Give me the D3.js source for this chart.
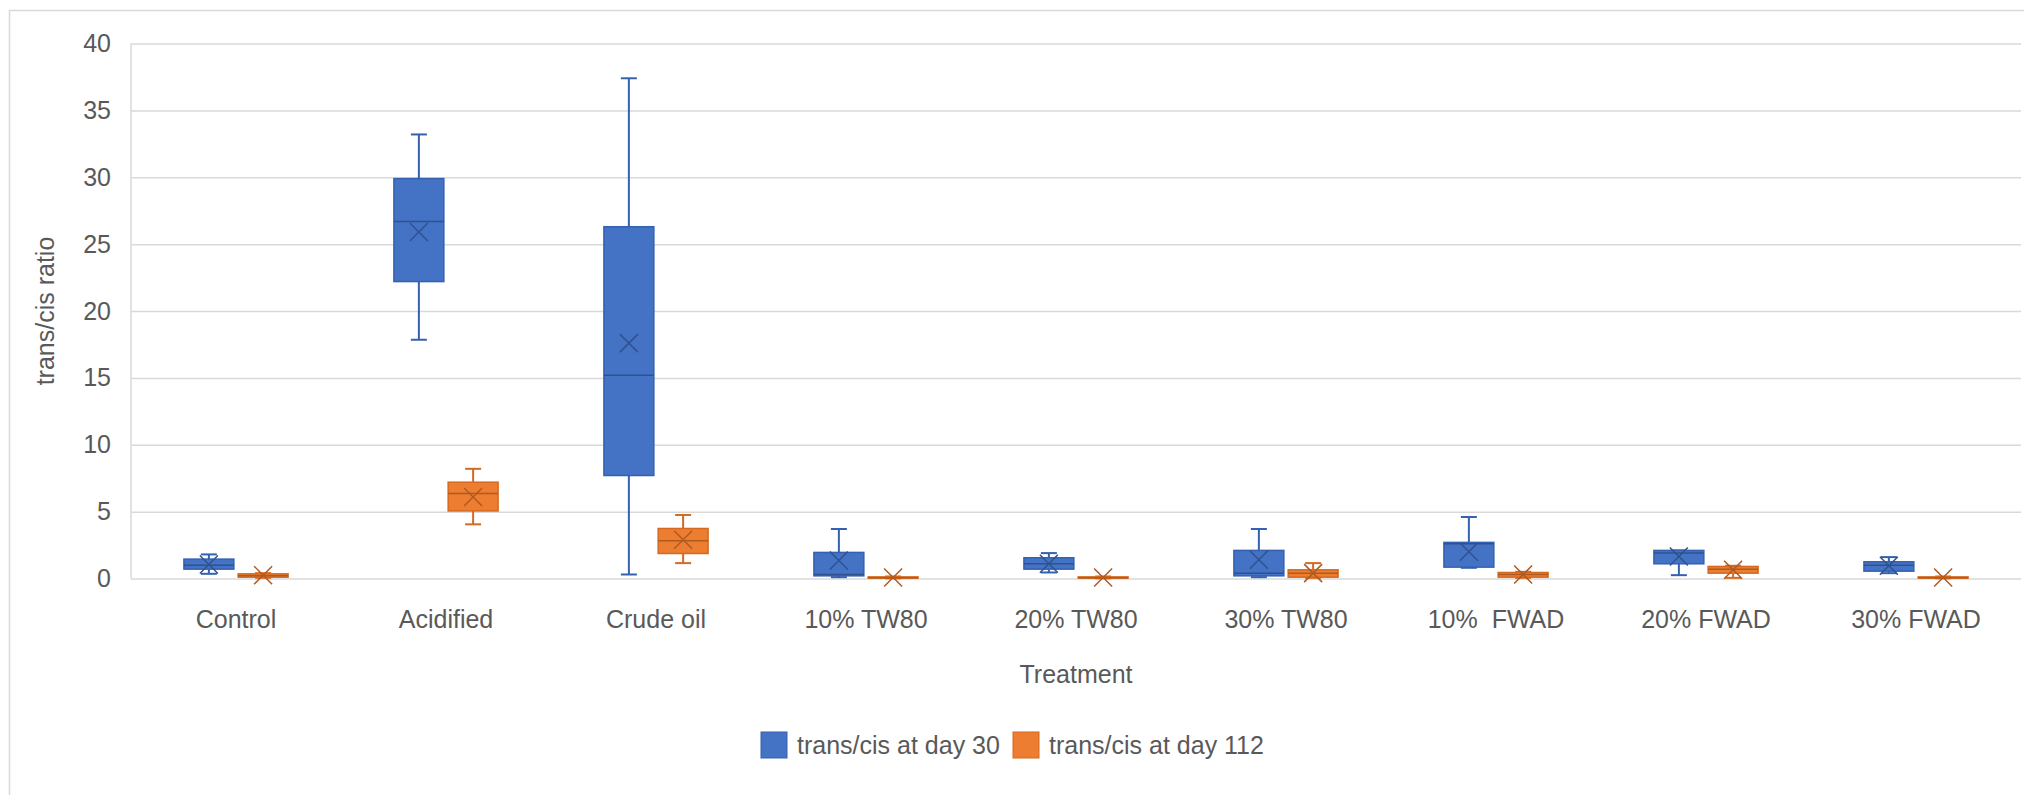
<!DOCTYPE html>
<html>
<head>
<meta charset="utf-8">
<script src="https://cdn.jsdelivr.net/npm/d3@7/dist/d3.min.js"></script>
<style>
  html, body { margin: 0; padding: 0; background: #ffffff; }
  svg { display: block; }
  text { font-family: "Liberation Sans", Arial, sans-serif; fill: #595959; }
</style>
</head>
<body>
<svg id="chart" width="2024" height="795"></svg>
<script>
// ---------------- data ----------------
const categories = ["Control", "Acidified", "Crude oil", "10% TW80", "20% TW80", "30% TW80", "10%  FWAD", "20% FWAD", "30% FWAD"];
const seriesNames = ["trans/cis at day 30", "trans/cis at day 112"];
const yTicks = [0, 5, 10, 15, 20, 25, 30, 35, 40];

// trans/cis at day 30
const day30Min    = [0.35, 17.85, 0.3, 0.1, 0.45, 0.1, 0.8, 0.25, 0.4];
const day30Q1     = [0.7, 22.2, 7.7, 0.2, 0.7, 0.2, 0.85, 1.1, 0.55];
const day30Median = [1.0, 26.7, 15.2, 0.3, 1.1, 0.4, 2.6, 1.9, 1.0];
const day30Q3     = [1.45, 29.9, 26.3, 1.95, 1.55, 2.1, 2.7, 2.1, 1.25];
const day30Max    = [1.8, 33.2, 37.4, 3.7, 1.9, 3.7, 4.6, 2.1, 1.6];
const day30Mean   = [1.05, 25.9, 17.6, 1.35, 1.1, 1.4, 2.0, 1.65, 0.95];

// trans/cis at day 112
const day112Min    = [0.05, 4.05, 1.15, 0.01, 0.01, 0.05, 0.05, 0.05, 0.01];
const day112Q1     = [0.1, 5.05, 1.87, 0.03, 0.03, 0.1, 0.1, 0.4, 0.03];
const day112Median = [0.2, 6.35, 2.83, 0.06, 0.06, 0.4, 0.3, 0.7, 0.06];
const day112Q3     = [0.35, 7.2, 3.74, 0.12, 0.12, 0.65, 0.45, 0.9, 0.12];
const day112Max    = [0.4, 8.2, 4.75, 0.15, 0.15, 1.15, 0.5, 0.95, 0.15];
const day112Mean   = [0.25, 6.1, 2.9, 0.08, 0.08, 0.4, 0.3, 0.65, 0.08];

// ---------------- build table ----------------
const seriesData = [
  { name: seriesNames[0], min: day30Min, q1: day30Q1, med: day30Median, q3: day30Q3, max: day30Max, mean: day30Mean },
  { name: seriesNames[1], min: day112Min, q1: day112Q1, med: day112Median, q3: day112Q3, max: day112Max, mean: day112Mean }
];
const boxes = [];
seriesData.forEach(s => {
  categories.forEach((c, i) => {
    boxes.push({ series: s.name, cat: c, min: s.min[i], q1: s.q1[i], med: s.med[i], q3: s.q3[i], max: s.max[i], mean: s.mean[i] });
  });
});

const fillColor = { [seriesNames[0]]: "#4472C4", [seriesNames[1]]: "#ED7D31" };
const edgeColor = { [seriesNames[0]]: "#3461B0", [seriesNames[1]]: "#D5691F" };
const markColor = { [seriesNames[0]]: "#2F528F", [seriesNames[1]]: "#AE5A21" };

// ---------------- scales ----------------
const svg = d3.select("#chart");
const plotL = 131, plotR = 2021, plotT = 43.5, plotB = 578.5;

const x0 = d3.scaleBand().domain(categories).range([plotL, plotR]).padding(0);
const bw = x0.bandwidth();
const x1 = d3.scaleBand().domain(seriesNames).range([bw * 0.252, bw * 0.748]).paddingInner(0.08).paddingOuter(0);
const y = d3.scaleLinear().domain([0, 40]).range([plotB, plotT]);

// outer chart border
svg.append("rect")
  .attr("x", 9.5).attr("y", 10.5)
  .attr("width", 2040).attr("height", 820)
  .attr("fill", "none").attr("stroke", "#D9D9D9").attr("stroke-width", 1.5);

// y axis with gridlines
const yAxis = d3.axisLeft(y).tickValues(yTicks).tickSize(-(plotR - plotL)).tickPadding(20).tickFormat(d3.format("d"));
const gy = svg.append("g").attr("transform", `translate(${plotL},0)`).call(yAxis);
gy.select(".domain").remove();
gy.selectAll(".tick line").attr("stroke", "#D9D9D9").attr("stroke-width", 1.5);
gy.selectAll(".tick text").attr("font-size", 25).attr("fill", "#595959")
  .attr("font-family", "'Liberation Sans', Arial, sans-serif");

// left vertical axis line
svg.append("line")
  .attr("x1", plotL).attr("x2", plotL)
  .attr("y1", y(40)).attr("y2", y(0))
  .attr("stroke", "#D9D9D9").attr("stroke-width", 1.5);

// x axis labels
const xAxis = d3.axisBottom(x0).tickSize(0).tickPadding(0);
const gx = svg.append("g").attr("transform", `translate(0,${plotB})`).call(xAxis);
gx.select(".domain").remove();
gx.selectAll(".tick text")
  .attr("font-size", 25).attr("fill", "#595959")
  .attr("font-family", "'Liberation Sans', Arial, sans-serif")
  .attr("dy", null).attr("y", 49.5)
  .style("white-space", "pre")
  .attr("xml:space", "preserve");

// ---------------- boxes ----------------
const capHalf = 8;
const g = svg.append("g");
const bg = g.selectAll("g.box").data(boxes).enter().append("g").attr("class", "box")
  .attr("transform", d => `translate(${x0(d.cat) + x1(d.series)},0)`);

const bwid = x1.bandwidth();
const cx = bwid / 2;

// whiskers
bg.append("line")
  .attr("x1", cx).attr("x2", cx)
  .attr("y1", d => y(d.q3)).attr("y2", d => y(d.max))
  .attr("stroke", d => edgeColor[d.series]).attr("stroke-width", 2);
bg.append("line")
  .attr("x1", cx).attr("x2", cx)
  .attr("y1", d => y(d.q1)).attr("y2", d => y(d.min))
  .attr("stroke", d => edgeColor[d.series]).attr("stroke-width", 2);
// caps
bg.append("line")
  .attr("x1", cx - capHalf).attr("x2", cx + capHalf)
  .attr("y1", d => y(d.max)).attr("y2", d => y(d.max))
  .attr("stroke", d => edgeColor[d.series]).attr("stroke-width", 2);
bg.append("line")
  .attr("x1", cx - capHalf).attr("x2", cx + capHalf)
  .attr("y1", d => y(d.min)).attr("y2", d => y(d.min))
  .attr("stroke", d => edgeColor[d.series]).attr("stroke-width", 2);

// box
bg.append("rect")
  .attr("x", 0).attr("width", bwid)
  .attr("y", d => y(d.q3)).attr("height", d => Math.max(0.5, y(d.q1) - y(d.q3)))
  .attr("fill", d => fillColor[d.series])
  .attr("stroke", d => edgeColor[d.series]).attr("stroke-width", 1.5);

// median
bg.append("line")
  .attr("x1", 0).attr("x2", bwid)
  .attr("y1", d => y(d.med)).attr("y2", d => y(d.med))
  .attr("stroke", d => markColor[d.series]).attr("stroke-width", 1.5);

// mean X marker
const mh = 9;
bg.append("path")
  .attr("d", d => {
    const my = y(d.mean);
    return `M${cx - mh},${my - mh}L${cx + mh},${my + mh}M${cx - mh},${my + mh}L${cx + mh},${my - mh}`;
  })
  .attr("fill", "none")
  .attr("stroke", d => markColor[d.series]).attr("stroke-width", 1.5);

// ---------------- titles ----------------
svg.append("text")
  .attr("x", (plotL + plotR) / 2).attr("y", 683)
  .attr("text-anchor", "middle").attr("font-size", 25)
  .text("Treatment");

svg.append("text")
  .attr("transform", `translate(54,${(plotT + plotB) / 2}) rotate(-90)`)
  .attr("text-anchor", "middle").attr("font-size", 25)
  .text("trans/cis ratio");

// ---------------- legend ----------------
const legendX = [761, 1013];
const lg = svg.append("g").selectAll("g").data(seriesNames).enter().append("g")
  .attr("transform", (d, i) => `translate(${legendX[i]},732)`);
lg.append("rect")
  .attr("width", 26).attr("height", 26)
  .attr("fill", d => fillColor[d]).attr("stroke", d => edgeColor[d]).attr("stroke-width", 1);
lg.append("text")
  .attr("x", 36).attr("y", 22)
  .attr("font-size", 25)
  .text(d => d);
</script>
</body>
</html>
